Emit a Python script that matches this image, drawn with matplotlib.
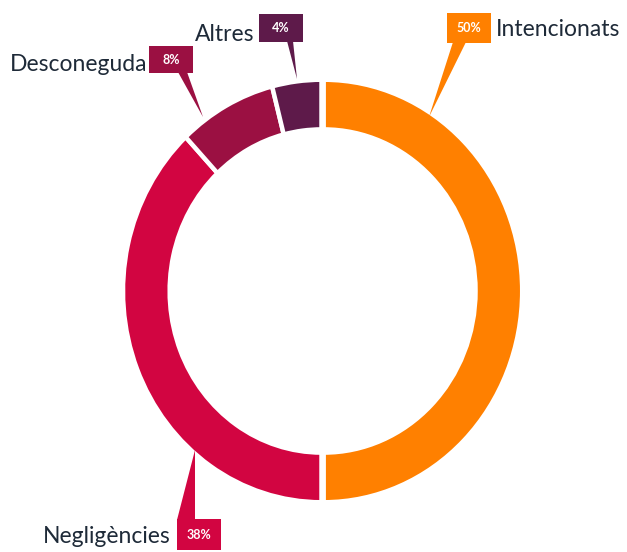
import matplotlib
matplotlib.use("Agg")
import matplotlib.pyplot as plt
from matplotlib.patches import Rectangle, Polygon

categories = ["Intencionats", "Negligències", "Desconeguda", "Altres"]
values = [50, 38, 8, 4]
pct_labels = ["50%", "38%", "8%", "4%"]
colors = ["#FF8000", "#D20541", "#9B1042", "#5E1A4A"]

W, H = 627, 552
fig = plt.figure(figsize=(W / 100, H / 100), dpi=100)

# Pie axes: unit radius -> 198.5 px horizontally, 211.25 px vertically
cx, cy = 321.5, 291.0
rx, ry = 198.5, 211.25
ax = fig.add_axes([0, 0, 1, 1])
ax.pie(values, colors=colors, startangle=90, counterclock=False,
       explode=[0.011, 0, 0, 0],
       wedgeprops=dict(width=0.235, edgecolor="white", linewidth=3.2))
ax.set_aspect("auto")
ax.set_xlim(-cx / rx, (W - cx) / rx)
ax.set_ylim(-(H - cy) / ry, cy / ry)
ax.axis("off")

# Overlay axes in pixel coordinates for callouts
ov = fig.add_axes([0, 0, 1, 1])
ov.set_xlim(0, W)
ov.set_ylim(H, 0)
ov.axis("off")
ov.patch.set_alpha(0)

# callout layout: box (x0, y0, x1, y1), pointer triangle, label position
boxes = [(447, 13, 491, 43), (177, 519, 221, 550), (149, 46, 193, 73), (259, 14, 303, 42)]
pointers = [
    [(453, 42), (466, 42), (429, 117)],
    [(177, 520), (195, 520), (195, 450)],
    [(178, 72), (187, 72), (203, 117)],
    [(287, 41), (293, 41), (297, 79)],
]
label_pos = [(496, 36.5, "left"), (171, 543, "right"), (147, 71, "right"), (254, 41, "right")]

text_color = "#1E2A38"
for i, cat in enumerate(categories):
    x0, y0, x1, y1 = boxes[i]
    ov.add_patch(Polygon(pointers[i], closed=True, facecolor=colors[i], edgecolor="none"))
    ov.add_patch(Rectangle((x0, y0), x1 - x0, y1 - y0, facecolor=colors[i], edgecolor="none"))
    ov.text((x0 + x1) / 2, (y0 + y1) / 2 + 0.5, pct_labels[i], color="white",
            fontsize=9, fontweight="bold", family="Lato", ha="center", va="center")
    lx, ly, ha = label_pos[i]
    ov.text(lx, ly, cat, color=text_color, fontsize=16.5, family="Lato",
            ha=ha, va="baseline")

fig.savefig("out.png", dpi=100)
